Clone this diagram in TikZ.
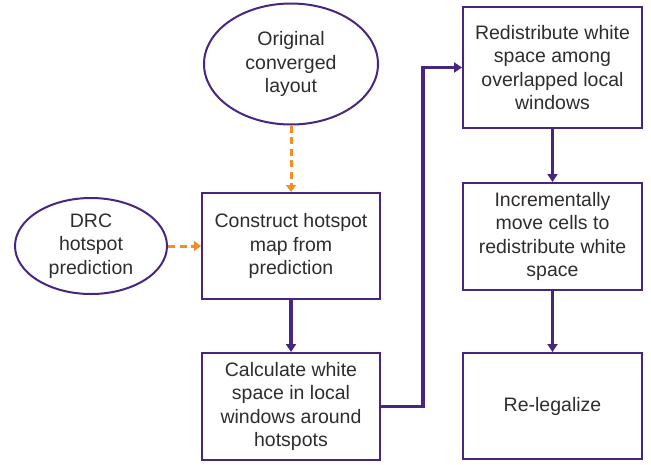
\documentclass[tikz,border=0pt]{standalone}
\usepackage{fontspec}
\setmainfont{Liberation Sans}
\usetikzlibrary{shapes.geometric,arrows.meta}
\definecolor{flowpurple}{RGB}{72,38,128}
\definecolor{floworange}{RGB}{242,142,36}
\definecolor{flowtext}{RGB}{45,45,45}
\tikzset{
  txt/.style={text=flowtext, font=\fontsize{19.5}{23.5}\selectfont, align=center, inner sep=0pt},
  stepbox/.style={txt, draw=flowpurple, line width=2pt, rectangle},
  oval/.style={txt, draw=flowpurple, line width=2pt, ellipse},
  flow/.style={draw=flowpurple, line width=3.2pt, -{Triangle[length=8pt,width=10pt]}},
  hint/.style={draw=floworange, line width=3pt, dash pattern=on 7pt off 4.5pt,
               -{Triangle[length=7pt,width=10pt]}},
}
\begin{document}
\begin{tikzpicture}[x=1pt,y=-1pt]
\useasboundingbox (0,0) rectangle (651,464);

\node[oval, minimum width=174pt, minimum height=121pt] (orig) at (291,64)
  {Original\\converged\\layout};
\node[oval, minimum width=152pt, minimum height=96pt] (drc) at (91,246)
  {DRC\\hotspot\\prediction};

\node[stepbox, minimum width=178pt, minimum height=106pt] (build) at (291,246)
  {Construct hotspot\\map from\\prediction};
\node[stepbox, minimum width=178pt, minimum height=107pt] (calc) at (291,406.5)
  {Calculate white\\space in local\\windows around\\hotspots};

\node[stepbox, minimum width=179pt, minimum height=121pt] (redis) at (552.5,67.5)
  {Redistribute white\\space among\\overlapped local\\windows};
\node[stepbox, minimum width=179pt, minimum height=107pt] (incr) at (552.5,236.5)
  {Incrementally\\move cells to\\redistribute white\\space};
\node[stepbox, minimum width=179pt, minimum height=106pt] (releg) at (552.5,406)
  {Re-legalize};

\draw[hint] (orig.south) -- (build.north);
\draw[hint] (drc.east) -- (build.west);
\draw[flow] (build.south) -- (calc.north);
\draw[flow] (calc.east) -- ++(42,0) |- (redis.west);
\draw[flow] (redis.south) -- (incr.north);
\draw[flow] (incr.south) -- (releg.north);
\end{tikzpicture}
\end{document}
